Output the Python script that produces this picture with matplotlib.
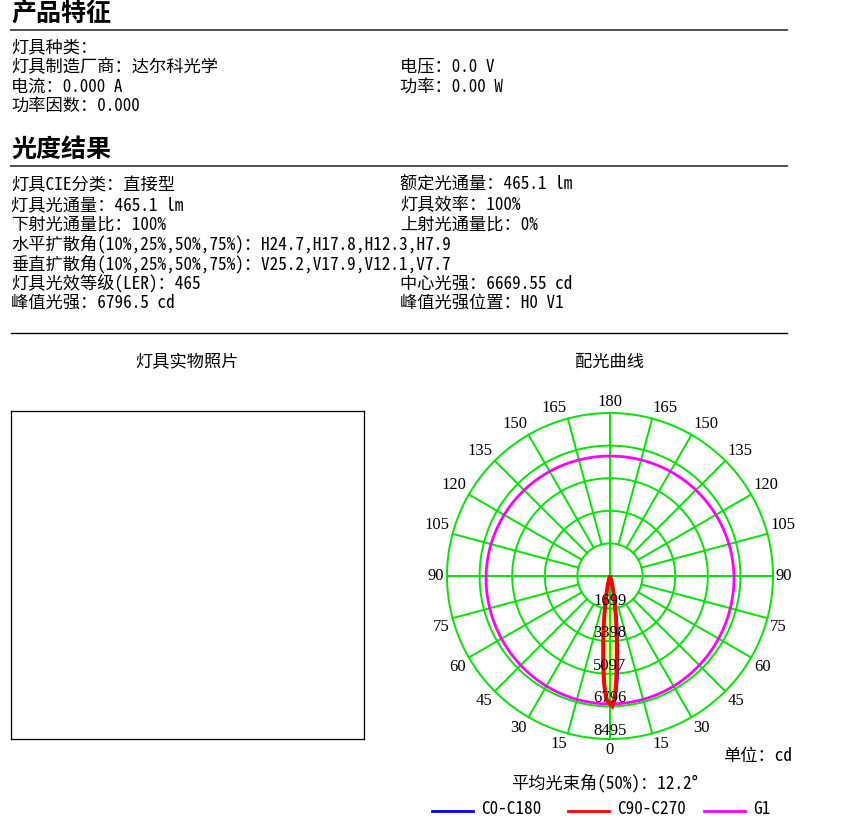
import numpy as np
import matplotlib
matplotlib.use("Agg")
import matplotlib.pyplot as plt
from matplotlib.lines import Line2D
from matplotlib.path import Path
from matplotlib.patches import PathPatch

plt.rcParams['font.family'] = ['Noto Sans Mono CJK SC', 'Noto Sans CJK SC', 'DejaVu Sans']

W, H = 845, 819

# ---- text data ----
section1_title = "产品特征"
section1_left = ["灯具种类：", "灯具制造厂商：达尔科光学", "电流：0.000 A", "功率因数：0.000"]
section1_right = ["", "电压：0.0 V", "功率：0.00 W", ""]

section2_title = "光度结果"
section2_left = ["灯具CIE分类：直接型", "灯具光通量：465.1 lm", "下射光通量比：100%",
                 "水平扩散角(10%,25%,50%,75%)：H24.7,H17.8,H12.3,H7.9",
                 "垂直扩散角(10%,25%,50%,75%)：V25.2,V17.9,V12.1,V7.7",
                 "灯具光效等级(LER)：465", "峰值光强：6796.5 cd"]
section2_right = ["额定光通量：465.1 lm", "灯具效率：100%", "上射光通量比：0%",
                  "", "", "中心光强：6669.55 cd", "峰值光强位置：H0 V1"]

# ---- polar data ----
ring_values = [1699, 3398, 5097, 6796, 8495]
angle_ticks = [0, 15, 30, 45, 60, 75, 90, 105, 120, 135, 150, 165, 180]

gamma = [0, 1, 2, 3, 4, 5, 6, 7, 8, 9, 10, 12, 14, 16, 18, 20, 25, 30, 40, 90, 180]
c0 = [6670, 6640, 6480, 6050, 5400, 4650, 3900, 3200, 2560, 2010, 1560, 920, 540, 310, 175, 100, 33, 10, 0, 0, 0]
c180 = [6670, 6540, 6180, 5560, 4800, 4000, 3250, 2600, 2040, 1560, 1190, 710, 420, 245, 140, 82, 27, 8, 0, 0, 0]
c90 = [6670, 6796, 6450, 5800, 4880, 4080, 3360, 2720, 2180, 1680, 1300, 780, 455, 265, 150, 90, 30, 9, 0, 0, 0]
c270 = [6670, 6600, 6300, 5700, 4900, 4100, 3370, 2730, 2170, 1670, 1290, 770, 450, 260, 150, 90, 30, 9, 0, 0, 0]

g1_gamma = [0, 15, 30, 45, 60, 75, 90, 105, 120, 135, 150, 165, 180]
g1_values = [6670, 6660, 6630, 6580, 6530, 6490, 6460, 6420, 6370, 6330, 6290, 6260, 6250]


def fx(x):
    return x / W


def fy(y):
    return 1 - y / H


def polar_curve(ax, theta, r, **kw):
    # curve drawn in (theta, r) with interpolation so arcs stay round
    path = Path(np.column_stack([theta, r]), _interpolation_steps=12)
    patch = PathPatch(path, transform=ax.transData, fill=False, **kw)
    ax.add_patch(patch)
    return patch


fig = plt.figure(figsize=(W / 100, H / 100), dpi=100)
FS = 12.4

# header sections
fig.text(fx(11), fy(14), section1_title, fontsize=18, fontweight='bold', va='center',
         family=['Noto Sans CJK SC'])
fig.add_artist(Line2D([fx(11), fx(787)], [fy(29.5), fy(29.5)], color='#404040', lw=1.3))
for i, (a, b) in enumerate(zip(section1_left, section1_right)):
    y = 47 + i * 19.7
    fig.text(fx(11), fy(y), a, fontsize=FS, va='center')
    if b:
        fig.text(fx(400), fy(y), b, fontsize=FS, va='center')

fig.text(fx(11), fy(150), section2_title, fontsize=18, fontweight='bold', va='center',
         family=['Noto Sans CJK SC'])
fig.add_artist(Line2D([fx(11), fx(787)], [fy(166), fy(166)], color='#404040', lw=1.3))
for i, (a, b) in enumerate(zip(section2_left, section2_right)):
    y = 185 + i * 19.7
    fig.text(fx(11), fy(y), a, fontsize=FS, va='center')
    if b:
        fig.text(fx(400), fy(y), b, fontsize=FS, va='center')

fig.add_artist(Line2D([fx(11), fx(787)], [fy(333), fy(333)], color='black', lw=1.0))

# photo box
fig.text(fx(187), fy(362), "灯具实物照片", fontsize=FS, ha='center', va='center')
box = fig.add_axes([fx(11), fy(739), (364 - 11) / W, (739 - 411) / H])
box.set_xticks([])
box.set_yticks([])
for s in box.spines.values():
    s.set_linewidth(0.9)

# polar chart
fig.text(fx(610), fy(362), "配光曲线", fontsize=FS, ha='center', va='center')
R = 163
ax = fig.add_axes([fx(610 - R), fy(576 + R), 2 * R / W, 2 * R / H], projection='polar')
ax.set_theta_zero_location('S')
ax.set_theta_direction(1)
ax.set_ylim(0, ring_values[-1])
ax.grid(False)
ax.set_xticks([])
ax.set_yticks([])
ax.spines['polar'].set_visible(False)

green = '#00e600'
circ = np.linspace(0, 2 * np.pi, 721)
for r in ring_values:
    ax.plot(circ, np.full_like(circ, r), color=green, lw=1.4, clip_on=False, zorder=2)
for a in range(0, 360, 15):
    t = np.radians(a)
    r0 = 0 if a % 90 == 0 else ring_values[0]
    ax.plot([t, t], [r0, ring_values[-1]], color=green, lw=1.4, clip_on=False, zorder=2)

# angle labels anchored at their inner corner, just outside the outer ring
label_r = ring_values[-1] * 166 / R
serif = ['Liberation Serif', 'DejaVu Serif']
for a in angle_ticks:
    for side in (1, -1):
        if a in (0, 180) and side == -1:
            continue
        if a in (0, 180):
            ha = 'center'
        else:
            ha = 'left' if side == 1 else 'right'
        if a == 90:
            va = 'center'
        else:
            va = 'top' if a < 90 else 'bottom'
        ax.text(np.radians(a * side), label_r, str(a), fontsize=12, family=serif,
                ha=ha, va=va)
for r in ring_values:
    ax.text(0, r - 8 * ring_values[-1] / R, str(r), fontsize=12, family=serif,
            ha='center', va='center', zorder=6)

g = np.array(gamma)
th = np.radians(np.concatenate([-g[::-1], g]))
r_c0 = np.concatenate([np.array(c180)[::-1], c0])
r_c90 = np.concatenate([np.array(c270)[::-1], c90])

ax.fill(th, r_c90, color='#ffffa8', zorder=1)
polar_curve(ax, th, r_c0, edgecolor='#0000ff', lw=2.0, zorder=4)
polar_curve(ax, th, r_c90, edgecolor='#ff0000', lw=2.8, zorder=5)

gg = np.array(g1_gamma)
th_g1 = np.radians(np.concatenate([-gg[::-1], gg[1:]]))
r_g1 = np.concatenate([np.array(g1_values)[::-1], g1_values[1:]])
polar_curve(ax, th_g1, r_g1, edgecolor='#ff00ff', lw=2.0, zorder=3)

fig.text(fx(723), fy(756), "单位：cd", fontsize=FS, va='center')
fig.text(fx(605), fy(783), "平均光束角(50%)：12.2°", fontsize=FS, ha='center', va='center')

# legend
legend_items = [("C0-C180", '#0000ff', 432), ("C90-C270", '#ff0000', 568), ("G1", '#ff00ff', 704)]
for name, col, x0 in legend_items:
    fig.add_artist(Line2D([fx(x0), fx(x0 + 41)], [fy(811), fy(811)], color=col, lw=2))
    fig.text(fx(x0 + 49), fy(809), name, fontsize=FS, va='center')

fig.savefig("out.png", dpi=100)
